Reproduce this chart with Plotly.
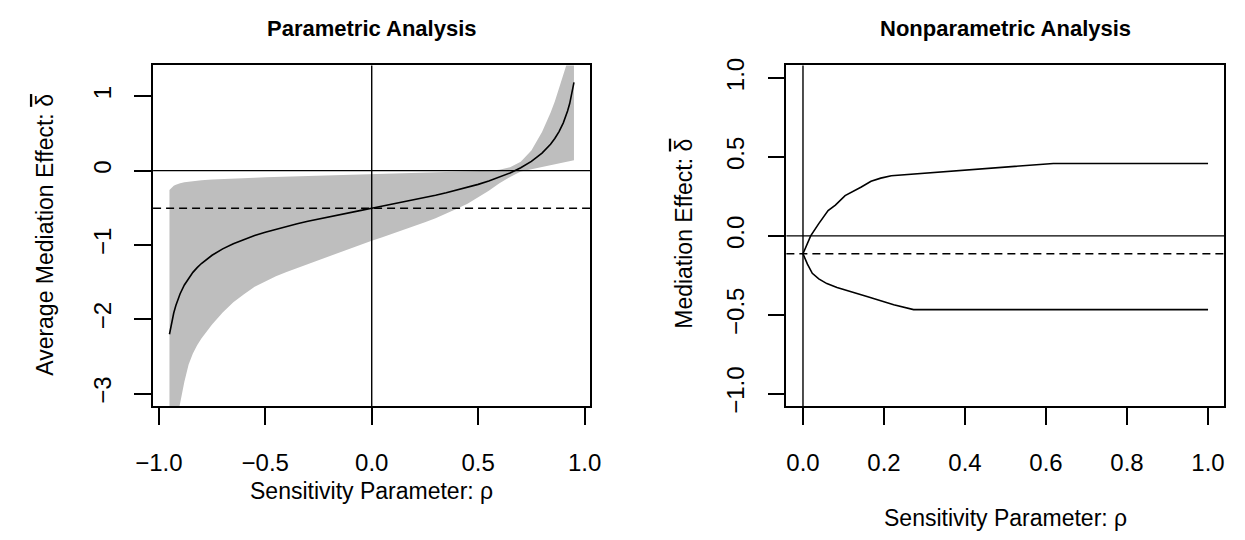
import plotly.graph_objects as go

# ---------------- data ----------------
rho_par = [-0.95, -0.94, -0.93, -0.92, -0.91, -0.90, -0.88, -0.86, -0.84, -0.82, -0.80,
           -0.75, -0.70, -0.65, -0.60, -0.55, -0.50, -0.45, -0.40, -0.35, -0.30, -0.25,
           -0.20, -0.15, -0.10, -0.05, 0.00, 0.05, 0.10, 0.15, 0.20, 0.25, 0.30, 0.35,
           0.40, 0.45, 0.50, 0.55, 0.60, 0.65, 0.70, 0.75, 0.80, 0.82, 0.84, 0.86, 0.88,
           0.90, 0.91, 0.92, 0.93, 0.94, 0.95]
acme_par = [-2.202, -2.042, -1.916, -1.815, -1.730, -1.657, -1.539, -1.446, -1.369, -1.305, -1.250,
            -1.139, -1.053, -0.983, -0.925, -0.874, -0.829, -0.788, -0.750, -0.715, -0.682, -0.651,
            -0.621, -0.592, -0.563, -0.535, -0.507, -0.479, -0.451, -0.422, -0.393, -0.363, -0.332, -0.299,
            -0.264, -0.226, -0.185, -0.140, -0.089, -0.031, 0.039, 0.125, 0.236, 0.291, 0.355, 0.432, 0.525,
            0.643, 0.716, 0.801, 0.902, 1.028, 1.188]
upper_par = [-0.260, -0.225, -0.205, -0.190, -0.178, -0.169, -0.157, -0.148, -0.141, -0.135, -0.130,
             -0.120, -0.112, -0.106, -0.100, -0.095, -0.090, -0.086, -0.082, -0.078, -0.074, -0.070,
             -0.066, -0.062, -0.059, -0.055, -0.052, -0.048, -0.044, -0.040, -0.036, -0.032, -0.028, -0.024,
             -0.019, -0.014, -0.009, -0.002, 0.010, 0.045, 0.120, 0.270, 0.520, 0.640, 0.780, 0.930, 1.100,
             1.280, 1.380, 1.480, 1.600, 1.750, 1.900]
lower_par = [-4.30, -3.95, -3.65, -3.42, -3.27, -3.10, -2.84, -2.61, -2.46, -2.35, -2.26,
             -2.07, -1.91, -1.77, -1.663, -1.562, -1.491, -1.42, -1.363, -1.306, -1.249, -1.199,
             -1.149, -1.099, -1.047, -0.995, -0.943, -0.895, -0.847, -0.799, -0.747, -0.695, -0.642, -0.578,
             -0.512, -0.447, -0.364, -0.270, -0.171, -0.085, -0.013, 0.018, 0.049, 0.060, 0.070, 0.080, 0.093,
             0.105, 0.112, 0.120, 0.127, 0.134, 0.140]
acme_par_at0 = -0.507

np_rho_up = [0.000, 0.019, 0.039, 0.062, 0.080, 0.104, 0.144, 0.168, 0.192, 0.218, 0.618, 1.000]
np_up = [-0.113, 0.000, 0.078, 0.160, 0.195, 0.255, 0.310, 0.346, 0.366, 0.381, 0.459, 0.459]
np_rho_lo = [0.000, 0.011, 0.023, 0.039, 0.059, 0.084, 0.160, 0.224, 0.273, 1.000]
np_lo = [-0.113, -0.179, -0.237, -0.272, -0.302, -0.327, -0.385, -0.436, -0.467, -0.467]
acme_np_at0 = -0.113

xt_par = [-1.0, -0.5, 0.0, 0.5, 1.0]
xt_par_lab = ["\u22121.0", "\u22120.5", "0.0", "0.5", "1.0"]
yt_par = [1, 0, -1, -2, -3]
yt_par_lab = ["1", "0", "\u22121", "\u22122", "\u22123"]
xt_np = [0.0, 0.2, 0.4, 0.6, 0.8, 1.0]
xt_np_lab = ["0.0", "0.2", "0.4", "0.6", "0.8", "1.0"]
yt_np = [1.0, 0.5, 0.0, -0.5, -1.0]
yt_np_lab = ["1.0", "0.5", "0.0", "\u22120.5", "\u22121.0"]

# ---------------- figure ----------------
FONT = "Liberation Sans, Arial, Helvetica, sans-serif"
W, H = 1245, 540
fig = go.Figure()

# confidence band
fig.add_trace(go.Scatter(
    x=rho_par + rho_par[::-1], y=upper_par + lower_par[::-1],
    fill="toself", fillcolor="#BEBEBE", line=dict(width=0), mode="lines",
    hoverinfo="skip", showlegend=False, xaxis="x", yaxis="y"))
fig.add_trace(go.Scatter(
    x=rho_par, y=acme_par, mode="lines", line=dict(color="black", width=1.6),
    showlegend=False, xaxis="x", yaxis="y"))

fig.add_trace(go.Scatter(
    x=np_rho_up, y=np_up, mode="lines", line=dict(color="black", width=1.6),
    showlegend=False, xaxis="x2", yaxis="y2"))
fig.add_trace(go.Scatter(
    x=np_rho_lo, y=np_lo, mode="lines", line=dict(color="black", width=1.6),
    showlegend=False, xaxis="x2", yaxis="y2"))

shapes = []
for xa, ya, est in (("x", "y", acme_par_at0), ("x2", "y2", acme_np_at0)):
    shapes.append(dict(type="line", xref=xa, yref=ya + " domain", x0=0, x1=0, y0=0, y1=1,
                       line=dict(color="black", width=1.4)))
    shapes.append(dict(type="line", xref=xa + " domain", yref=ya, x0=0, x1=1, y0=0, y1=0,
                       line=dict(color="black", width=1.4)))
    shapes.append(dict(type="line", xref=xa + " domain", yref=ya, x0=0, x1=1, y0=est, y1=est,
                       line=dict(color="black", width=1.4, dash="8px,5px")))

ax_common = dict(showline=True, mirror=True, linecolor="black", linewidth=1.5,
                 ticks="outside", ticklen=17, tickwidth=1.5, tickcolor="black",
                 showgrid=False, zeroline=False, tickmode="array",
                 tickfont=dict(family=FONT, size=24, color="black"))

ydom = [1 - 410 / H, 1 - 60 / H]
fig.update_layout(
    width=W, height=H, margin=dict(l=0, r=0, t=0, b=0),
    paper_bgcolor="white", plot_bgcolor="white", showlegend=False,
    xaxis=dict(domain=[138.3 / W, 586 / W], range=[-1.027, 1.027],
               tickvals=xt_par, ticktext=xt_par_lab, anchor="y", ticklabelstandoff=17, **ax_common),
    yaxis=dict(domain=ydom, range=[-3.172, 1.415],
               tickvals=yt_par, ticktext=yt_par_lab, anchor="x", tickangle=-90, ticklabelstandoff=14, **ax_common),
    xaxis2=dict(domain=[786.7 / W, 1235 / W], range=[-0.041, 1.04],
                tickvals=xt_np, ticktext=xt_np_lab, anchor="y2", ticklabelstandoff=17, **ax_common),
    yaxis2=dict(domain=ydom, range=[-1.08, 1.08],
                tickvals=yt_np, ticktext=yt_np_lab, anchor="x2", tickangle=-90, ticklabelstandoff=14, **ax_common),
    shapes=shapes,
)

def ann(text, x, y, size, bold=False, angle=0, yanchor="middle"):
    return dict(text=("<b>%s</b>" % text) if bold else text, x=x / W, y=1 - y / H,
                xref="paper", yref="paper", xanchor="center", yanchor=yanchor,
                showarrow=False, textangle=angle,
                font=dict(family=FONT, size=size, color="black"))

DELTA_BAR = "<span style='text-decoration:overline'>\u03b4</span>"
fig.update_layout(annotations=[
    ann("Parametric Analysis", 362, 22, 22, bold=True),
    ann("Nonparametric Analysis", 1011, 22, 22, bold=True),
    ann("Sensitivity Parameter: \u03c1", 362, 497, 23),
    ann("Sensitivity Parameter: \u03c1", 1011, 539.5, 23, yanchor="bottom"),
    ann("Average Mediation Effect: " + DELTA_BAR, 27.5, 234, 23, angle=-90),
    ann("Mediation Effect: " + DELTA_BAR, 681.7, 233, 23, angle=-90),
])

fig.write_html("out.html", config={"displayModeBar": False},
               post_script="document.body.style.margin='0';document.body.style.overflow='hidden';")
